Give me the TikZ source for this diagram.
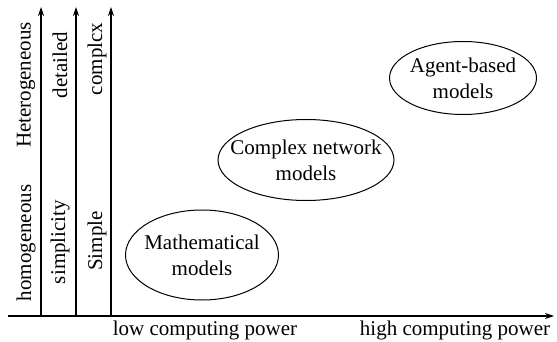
\documentclass[tikz,border=0pt]{standalone}
\usepackage{fontspec}
\setmainfont{Liberation Serif}
\usetikzlibrary{arrows.meta}
\begin{document}
\begin{tikzpicture}[x=1pt,y=-1pt,
  lbl/.style={font=\fontsize{21}{25}\selectfont, inner sep=0pt},
  vlbl/.style={lbl, rotate=90},
  model/.style={inner sep=0pt, align=center, font=\fontsize{21}{26}\selectfont},
  rim/.style={line width=1pt},
  axis/.style={line width=1.1pt, -{Stealth[length=9pt,width=6pt]}}]
\useasboundingbox (0,0) rectangle (557,342);
% axes
\coordinate (xs) at (8,316);
\coordinate (xe) at (554,316);
\draw[axis] (xs) -- (xe);
\coordinate (a1) at (41,316); \coordinate (a1t) at (41,7);
\coordinate (a2) at (76,316); \coordinate (a2t) at (76,7);
\coordinate (a3) at (111,316); \coordinate (a3t) at (111,7);
\draw[axis] (a1) -- (a1t);
\draw[axis] (a2) -- (a2t);
\draw[axis] (a3) -- (a3t);
% vertical labels
\node[vlbl] (homo) at (26,243) {homogeneous};
\node[vlbl] (hete) at (26,85) {Heterogeneous};
\node[vlbl] (simp) at (60,242) {simplicity};
\node[vlbl] (deta) at (60,65) {detailed};
\node[vlbl] (simple) at (97,241) {Simple};
\node[vlbl] (cplx) at (97,59) {complcx};
% horizontal labels
\node[lbl] (low) at (205,330) {low computing power};
\node[lbl] (high) at (455,330) {high computing power};
% models
\node[model] (math) at (202,255) {Mathematical\\models};
\draw[rim] (math.center) ellipse [x radius=76.5, y radius=45];
\node[model] (cnm) at (306,160) {Complex network\\models};
\draw[rim] (cnm.center) ellipse [x radius=88, y radius=40.5];
\node[model] (abm) at (463,78) {Agent-based\\models};
\draw[rim] (abm.center) ellipse [x radius=73.5, y radius=36.5];
\end{tikzpicture}
\end{document}
